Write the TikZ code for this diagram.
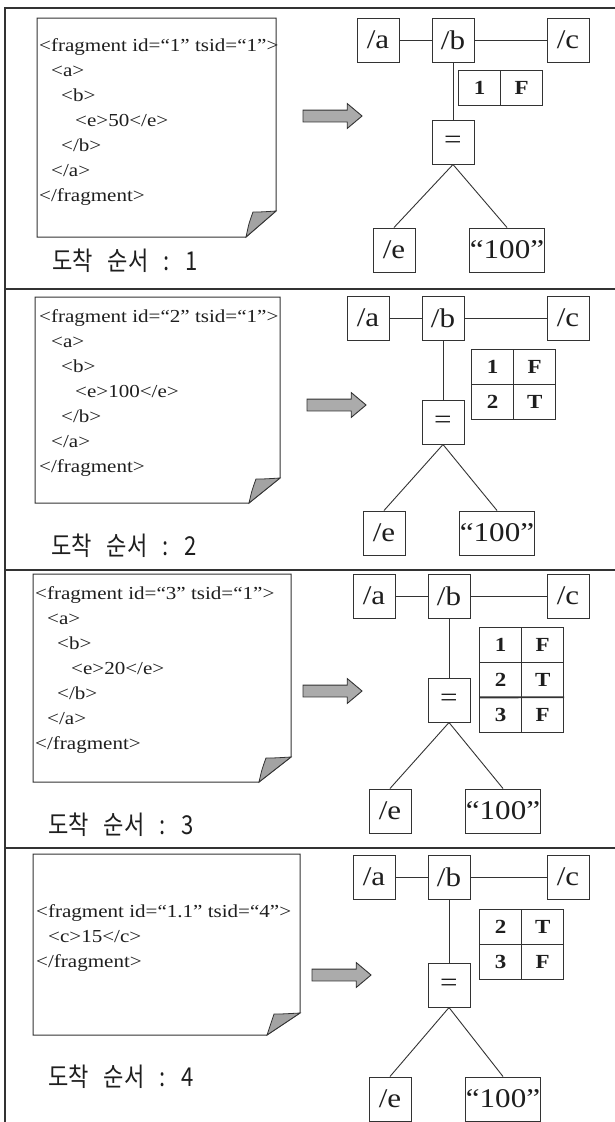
\documentclass[tikz,border=0pt]{standalone}
\usepackage{fontspec}
\setmainfont{Liberation Serif}[FakeStretch=1.15]
\newfontfamily\krfont{Noto Sans CJK KR}[FakeStretch=0.85,WordSpace=3.0]
\usepackage{xcolor}
\usepackage{tikz}
\usetikzlibrary{arrows.meta,matrix,positioning,shapes.arrows}
\definecolor{frInk}{HTML}{1E1E1E}
\definecolor{frLine}{HTML}{333333}
\definecolor{frFold}{HTML}{A3A3A3}
\definecolor{frArrow}{HTML}{ABABAB}
\tikzset{
  fr diagram/.style={x=1pt, y=-1pt, text=frInk, line join=miter},
  fr frame/.style={draw=frLine, line width=1.3pt},
  fr page/.style={draw=frLine, line width=1pt, fill=white},
  fr flap/.style={draw=frLine, line width=0.8pt, fill=frFold},
  fr code/.style={font=\fontsize{18.3}{25}\selectfont, align=left,
    inner sep=0pt, anchor=north west},
  fr order/.style={font=\krfont\fontsize{26}{26}\selectfont,
    inner sep=0pt, anchor=west},
  fr box/.style={draw=frLine, line width=1pt, minimum width=42pt,
    minimum height=44pt, inner sep=0pt, font=\fontsize{27}{27}\selectfont},
  fr wide/.style={fr box, minimum width=67pt},
  fr cell/.style={draw=frLine, line width=1pt, minimum width=42pt,
    minimum height=35pt, inner sep=0pt, font=\fontsize{20}{20}\selectfont\bfseries},
  fr table/.style={matrix of nodes, nodes={fr cell}, column sep=-1pt,
    row sep=-1pt, inner sep=0pt, anchor=north west},
  fr edge/.style={draw=frLine, line width=0.9pt},
  fr arrow/.style={single arrow, draw=frLine, fill=frArrow, line width=0.9pt,
    minimum height=59pt, inner xsep=0pt, inner ysep=5.5pt,
    single arrow head extend=6.5pt, single arrow tip angle=80}
}
\begin{document}
\begin{tikzpicture}[fr diagram]
\path[fill=white] (0,0) rectangle (615,1122);
\useasboundingbox (0,0) rectangle (615,1122);
\draw[fr frame] (615,8) -- (5,8) -- (5,1122);
\foreach \y in {289,570,848}
  \draw[fr frame] (5,\y) -- (615,\y);
\foreach \x/\y/\X/\Y/\fx/\fy in {37/18/276/237/246/211,35/297/280/503/249/478,
    33/574/291/782/259/757,33/854/300/1035/267/1013}{
  \draw[fr page] (\x,\y) -| (\X,\fy) -- (\fx,\Y) -- (\x,\Y) -- cycle;
  \draw[fr flap] (\fx,\Y) .. controls (\fx+3,\fy+12) .. (\fx+7,\fy+1)
    .. controls (\fx+15,\fy+1) .. (\X,\fy) -- cycle;
}
\node[fr code] (code1) at (39,38) {<fragment id=“1” tsid=“1”>\\
  \hspace*{12pt}<a>\\
  \hspace*{22pt}<b>\\
  \hspace*{36pt}<e>50</e>\\
  \hspace*{22pt}</b>\\
  \hspace*{12pt}</a>\\
  </fragment>};
\node[fr code] (code2) at (39,309) {<fragment id=“2” tsid=“1”>\\
  \hspace*{12pt}<a>\\
  \hspace*{22pt}<b>\\
  \hspace*{36pt}<e>100</e>\\
  \hspace*{22pt}</b>\\
  \hspace*{12pt}</a>\\
  </fragment>};
\node[fr code] (code3) at (35,586) {<fragment id=“3” tsid=“1”>\\
  \hspace*{12pt}<a>\\
  \hspace*{22pt}<b>\\
  \hspace*{36pt}<e>20</e>\\
  \hspace*{22pt}</b>\\
  \hspace*{12pt}</a>\\
  </fragment>};
\node[fr code] (code4) at (36,904) {<fragment id=“1.1” tsid=“4”>\\
  \hspace*{12pt}<c>15</c>\\
  </fragment>};
\node[fr order] (order1) at (52,261) {도착 순서 : 1};
\node[fr order] (order2) at (51,546) {도착 순서 : 2};
\node[fr order] (order3) at (48,825) {도착 순서 : 3};
\node[fr order] (order4) at (48,1077) {도착 순서 : 4};
\node[fr arrow] (arr1) at (329,116) {};
\node[fr arrow] (arr2) at (333,405) {};
\node[fr arrow] (arr3) at (329,691) {};
\node[fr arrow] (arr4) at (338,975) {};
\foreach \i/\bx/\by/\eq/\lf in {1/453/40/142/250,2/443/318/422/533,
    3/449/596/700/811,4/449/877/985/1099}{
  \node[fr box] (b\i) at (\bx,\by) {/b};
  \node[fr box] (a\i) at (\bx-75,\by) {/a};
  \node[fr box] (c\i) at (568,\by) {/c};
  \node[fr box] (q\i) at (\bx,\eq) {=};
  \node[fr box] (e\i) at (\bx-59,\lf) {/e};
  \node[fr wide] (v\i) at (\bx+54,\lf) {“100”};
  \draw[fr edge] (a\i) -- (b\i);
  \draw[fr edge] (b\i) -- (c\i);
  \draw[fr edge] (b\i) -- (q\i);
  \draw[fr edge] (q\i.south) -- (e\i.north);
  \draw[fr edge] (q\i.south) -- (v\i.north);
}
\matrix[fr table] (t1) at (458,70) {1 & F \\};
\matrix[fr table] (t2) at (471,349) {1 & F \\ 2 & T \\};
\matrix[fr table] (t3) at (479,627) {1 & F \\ 2 & T \\ 3 & F \\};
\matrix[fr table] (t4) at (479,909) {2 & T \\ 3 & F \\};
\draw[fr edge, line width=1.8pt] (t3-3-1.north west) -- (t3-3-2.north east);
\end{tikzpicture}
\end{document}
